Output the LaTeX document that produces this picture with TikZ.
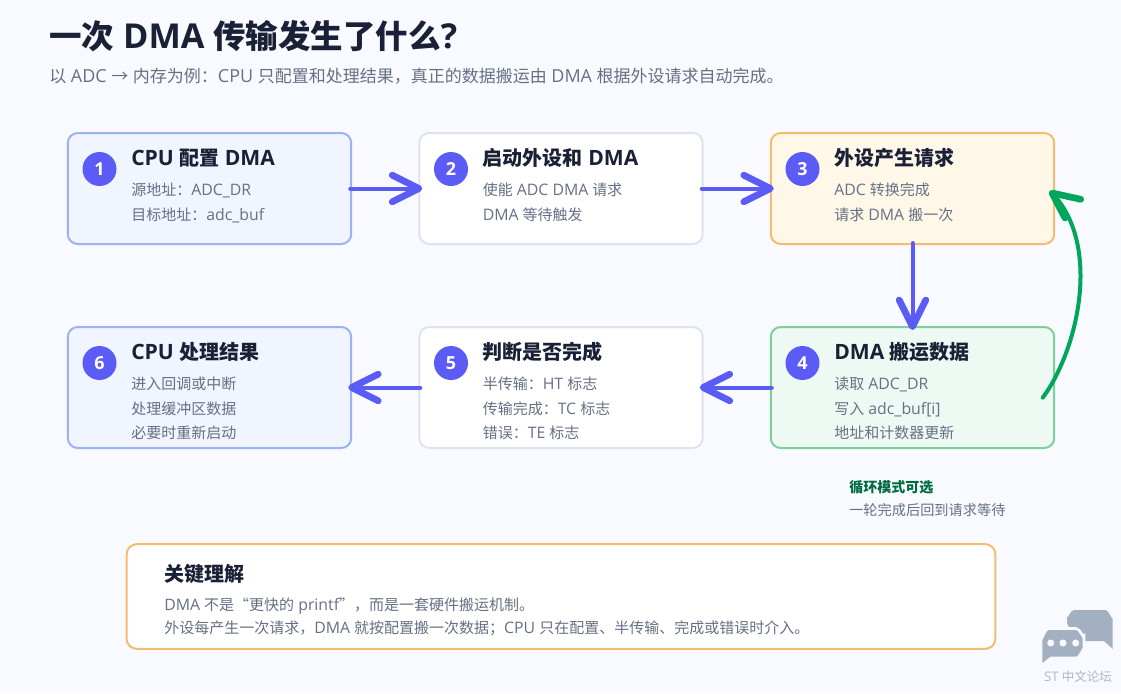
\documentclass[tikz,border=0pt]{standalone}
\usepackage{fontspec}
\usetikzlibrary{arrows.meta,calc}
\setmainfont{Open Sans}[Scale=1.055]
\newfontfamily\cjkraw{Noto Sans CJK SC}
\makeatletter
\edef\latfamname{\familydefault}
\begingroup\cjkraw\xdef\cjkfamname{\f@family}\endgroup
\makeatother
\newcommand{\tocjk}{\fontfamily{\cjkfamname}\selectfont}
\newcommand{\tolat}{\fontfamily{\latfamname}\selectfont}
\newXeTeXintercharclass\cjkcls
\newcount\cc
\newcommand{\setcls}[2]{\cc=#1\relax\loop\XeTeXcharclass\cc=\cjkcls\ifnum\cc<#2\advance\cc by 1\repeat}
\setcls{"3000}{"303F}
\setcls{"4E00}{"9FFF}
\setcls{"FF00}{"FFEF}
\XeTeXcharclass"201C=\cjkcls
\XeTeXcharclass"201D=\cjkcls
\XeTeXcharclass"2192=\cjkcls
\XeTeXinterchartoks 0 \cjkcls={\tocjk}
\XeTeXinterchartoks 4095 \cjkcls={\tocjk}
\XeTeXinterchartoks \cjkcls 0={\tolat}
\XeTeXinterchartoks \cjkcls 4095={\tolat}
\XeTeXinterchartokenstate=1
\definecolor{bgc}{HTML}{F8FAFF}
\definecolor{inkc}{HTML}{1A2035}
\definecolor{bodyc}{HTML}{667085}
\definecolor{accentc}{HTML}{5B5BF6}
\definecolor{flowc}{HTML}{00A65A}
\definecolor{notec}{HTML}{006B3F}
\definecolor{bluef}{HTML}{F0F5FF}
\definecolor{blued}{HTML}{9DB2F5}
\definecolor{plaind}{HTML}{DDE3EF}
\definecolor{amberf}{HTML}{FFF8E9}
\definecolor{amberd}{HTML}{F3BC70}
\definecolor{greenf}{HTML}{EFF9F3}
\definecolor{greend}{HTML}{7DD09A}
\definecolor{wmarkc}{HTML}{A3B0C2}
\definecolor{wmarkt}{HTML}{AEB8C7}
\newcommand{\fs}[1]{\fontsize{\dimexpr#1pt*3/4\relax}{\dimexpr#1pt*9/10\relax}\selectfont}
\tikzset{
  x=0.75pt,y=-0.75pt,
  card/.style={rectangle,rounded corners=7.5pt,line width=1.5pt,minimum width=212.6pt,inner sep=0},
  rowa/.style={minimum height=83.25pt},
  rowb/.style={minimum height=90.75pt},
  cardblue/.style={card,draw=blued,fill=bluef},
  cardplain/.style={card,draw=plaind,fill=white},
  cardamber/.style={card,draw=amberd,fill=amberf},
  cardgreen/.style={card,draw=greend,fill=greenf},
  badge/.style={circle,fill=accentc,text=white,minimum size=25.5pt,inner sep=0,font=\fs{17}\bfseries},
  headt/.style={anchor=base west,inner sep=0,text=inkc,font=\fs{20}\bfseries},
  linet/.style={anchor=base west,inner sep=0,text=bodyc,font=\fs{15}},
  conn/.style={draw=accentc,line width=3pt,line cap=round,shorten >=-3pt,shorten <=-1.5pt,
    -{Straight Barb[length=20pt,width=20pt,line width=5pt,round]}},
}
\begin{document}
\begin{tikzpicture}
\useasboundingbox (0,0) rectangle (1121,693);
\fill[bgc] (0,0) rectangle (1121,693);
\node[anchor=base west,inner sep=0,text=inkc,font=\fs{32.5}\bfseries] (title) at (49,48) {一次 DMA 传输发生了什么?};
\node[anchor=base west,inner sep=0,text=bodyc,font=\fs{17}] (sub) at (49,82.5) {以 ADC → 内存为例：CPU 只配置和处理结果，真正的数据搬运由 DMA 根据外设请求自动完成。};

\node[cardblue,rowa] (b1) at (209.5,188.5) {};
\node[cardplain,rowa] (b2) at (561,188.5) {};
\node[cardamber,rowa] (b3) at (912.5,188.5) {};
\node[cardgreen,rowb] (b4) at (912.5,387.5) {};
\node[cardplain,rowb] (b5) at (561,387.5) {};
\node[cardblue,rowb] (b6) at (209.5,387.5) {};

\node[badge] (n1) at (99.5,169) {1};
\node[badge] (n2) at (451,169) {2};
\node[badge] (n3) at (802.5,169) {3};
\node[badge] (n4) at (802.5,363) {4};
\node[badge] (n5) at (451,363) {5};
\node[badge] (n6) at (99.5,363) {6};

\node[headt] (h1) at (131,165) {CPU 配置 DMA};
\node[linet] (l1a) at (131,195) {源地址：ADC\_DR};
\node[linet] (l1b) at (131,220) {目标地址：adc\_buf};
\node[headt] (h2) at (482.5,165) {启动外设和 DMA};
\node[linet] (l2a) at (482.5,195) {使能 ADC DMA 请求};
\node[linet] (l2b) at (482.5,220) {DMA 等待触发};
\node[headt] (h3) at (834,165) {外设产生请求};
\node[linet] (l3a) at (834,195) {ADC 转换完成};
\node[linet] (l3b) at (834,220) {请求 DMA 搬一次};
\node[headt] (h4) at (834,359) {DMA 搬运数据};
\node[linet] (l4a) at (834,389) {读取 ADC\_DR};
\node[linet] (l4b) at (834,414) {写入 adc\_buf[i]};
\node[linet] (l4c) at (834,438) {地址和计数器更新};
\node[headt] (h5) at (482.5,359) {判断是否完成};
\node[linet] (l5a) at (482.5,389) {半传输：HT 标志};
\node[linet] (l5b) at (482.5,414) {传输完成：TC 标志};
\node[linet] (l5c) at (482.5,438) {错误：TE 标志};
\node[headt] (h6) at (131,359) {CPU 处理结果};
\node[linet] (l6a) at (131,389) {进入回调或中断};
\node[linet] (l6b) at (131,414) {处理缓冲区数据};
\node[linet] (l6c) at (131,438) {必要时重新启动};

\draw[conn] (b1.east) -- (b2.west);
\draw[conn] (b2.east) -- (b3.west);
\draw[conn] (b3.south) -- (b4.north);
\draw[conn] (b4.west) -- (b5.east);
\draw[conn] (b5.west) -- (b6.east);

\coordinate (fs) at (1042.7,397.7);
\coordinate (ft) at (1052,193);
\coordinate (fw1) at (1080.7,199.3);
\coordinate (fw2) at (1065,218);
\draw[flowc,line width=3pt,line cap=round] (fs) .. controls (1078,350) and (1102,245) .. (ft);
\draw[flowc,line width=5pt,line cap=round,line join=round] (fw1) -- (ft) -- (fw2);

\node[anchor=base west,inner sep=0,text=notec,font=\fs{14}\bfseries] (n1t) at (849,492) {循环模式可选};
\node[anchor=base west,inner sep=0,text=bodyc,font=\fs{14.2}] (n2t) at (849,515) {一轮完成后回到请求等待};

\node[card,draw=amberd,fill=white,minimum width=651.5pt,minimum height=78.5pt] (key) at (561,596.5) {};
\node[headt,font=\fs{20}\bfseries] (kh) at (164,581) {关键理解};
\node[linet] (k1) at (164,610) {DMA 不是“更快的 printf”，而是一套硬件搬运机制。};
\node[linet] (k2) at (164,633) {外设每产生一次请求，DMA 就按配置搬一次数据；CPU 只在配置、半传输、完成或错误时介入。};

% watermark
\fill[wmarkc] (1067,623) -- (1067,617) to[out=-90,in=180] (1074,610) -- (1105,610) to[out=0,in=-90] (1112.7,618) -- (1112.7,649) -- (1104,641) -- (1075,641) -- cycle;
\draw[bgc,line width=2pt,fill=wmarkc] (1041,638) to[out=-90,in=180] (1049,628.5) -- (1076,628.5) to[out=0,in=-90] (1084,636) -- (1084,650) to[out=90,in=0] (1076,658) -- (1051,658) -- (1041,666) -- cycle;
\foreach \cx in {1050.7,1063,1075.7} \fill[bgc] (\cx,643) circle[radius=3.5];
\node[inner sep=0,text=wmarkt,font=\fs{12.5}] (wm) at (1078,677) {ST 中文论坛};
\end{tikzpicture}
\end{document}
